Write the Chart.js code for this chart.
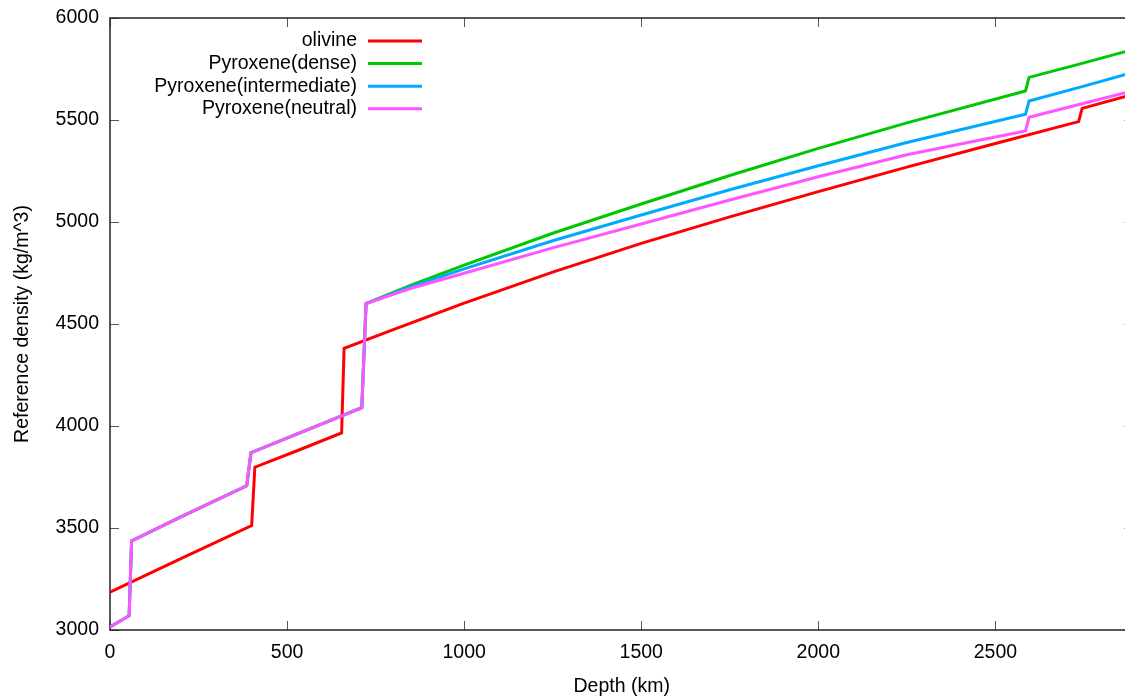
<!DOCTYPE html>
<html>
<head>
<meta charset="utf-8">
<script src="https://cdn.jsdelivr.net/npm/chart.js@4/dist/chart.umd.min.js"></script>
<style>
  html, body { margin: 0; padding: 0; background: #fff; overflow: hidden; }
  #wrap { width: 1125px; height: 698px; overflow: hidden; }
  canvas { display: block; }
</style>
</head>
<body>
<div id="wrap"><canvas id="densityChart" width="1135" height="698"></canvas></div>
<script>
/* ---------- data (depth in km, density in kg/m^3) ---------- */
const olivineDepth   = [0, 200, 400, 409, 530, 654, 661, 800, 1000, 1250, 1500, 1750, 2000, 2250, 2500, 2735, 2745, 2890];
const olivineDensity = [3186, 3350, 3512, 3798, 3880, 3966, 4381, 4472, 4602, 4754, 4895, 5025, 5149, 5269, 5385, 5492, 5557, 5626];

const pyroxeneDepth    = [0, 54, 61, 200, 386, 398, 550, 711, 723, 850, 1000, 1250, 1500, 1750, 2000, 2250, 2585, 2595, 2750, 2890];
const denseDensity     = [3015, 3070, 3437, 3555, 3707, 3869, 3976, 4090, 4600, 4691, 4789, 4945, 5088, 5228, 5361, 5486, 5642, 5709, 5780, 5846];
const intermDensity    = [3015, 3070, 3437, 3555, 3707, 3869, 3976, 4090, 4600, 4683, 4770, 4908, 5034, 5158, 5276, 5390, 5528, 5593, 5666, 5734];
const neutralDensity   = [3015, 3070, 3437, 3555, 3707, 3869, 3976, 4090, 4600, 4675, 4749, 4873, 4990, 5108, 5222, 5330, 5446, 5513, 5582, 5644];

const seriesLabels = ['olivine', 'Pyroxene(dense)', 'Pyroxene(intermediate)', 'Pyroxene(neutral)'];
const seriesColors = ['#ff0000', '#00c800', '#00aaff', '#ff55ff'];

const xTickValues = [0, 500, 1000, 1500, 2000, 2500];
const yTickValues = [3000, 3500, 4000, 4500, 5000, 5500, 6000];

const FONT = "'Liberation Sans', Arial, Helvetica, sans-serif";
const FONT_SIZE = 19.5;

function toPoints(xs, ys) {
  return xs.map((d, i) => ({ x: d, y: ys[i] }));
}

/* ---------- gnuplot style frame with inward ticks ---------- */
const framePlugin = {
  id: 'frame',
  beforeDatasetsDraw(chart) {
    const { ctx, chartArea: a, scales: { x, y } } = chart;
    ctx.save();
    ctx.strokeStyle = '#555';
    ctx.lineWidth = 1;
    ctx.beginPath();
    x.ticks.forEach(t => {
      const px = Math.round(x.getPixelForValue(t.value)) + 0.5;
      ctx.moveTo(px, a.bottom); ctx.lineTo(px, a.bottom - 9);
      ctx.moveTo(px, a.top); ctx.lineTo(px, a.top + 9);
    });
    y.ticks.forEach(t => {
      const py = Math.round(y.getPixelForValue(t.value)) + 0.5;
      ctx.moveTo(a.left, py); ctx.lineTo(a.left + 9, py);
      ctx.moveTo(a.right, py); ctx.lineTo(a.right - 9, py);
    });
    ctx.stroke();
    ctx.strokeStyle = '#222';
    ctx.lineWidth = 1.5;
    ctx.strokeRect(a.left, a.top, a.right - a.left, a.bottom - a.top);
    ctx.restore();
  }
};

/* ---------- legend: text right aligned, line sample on the right ---------- */
const keyPlugin = {
  id: 'key',
  afterDatasetsDraw(chart) {
    const { ctx } = chart;
    ctx.save();
    ctx.font = FONT_SIZE + 'px ' + FONT;
    ctx.textAlign = 'right';
    ctx.textBaseline = 'middle';
    seriesLabels.forEach((label, i) => {
      const yy = 41 + i * 22.6;
      ctx.fillStyle = '#000';
      ctx.fillText(label, 357, yy);
      ctx.strokeStyle = seriesColors[i];
      ctx.lineWidth = 3;
      ctx.beginPath();
      ctx.moveTo(368, yy);
      ctx.lineTo(422, yy);
      ctx.stroke();
    });
    ctx.restore();
  }
};

const seriesData = [
  toPoints(olivineDepth, olivineDensity),
  toPoints(pyroxeneDepth, denseDensity),
  toPoints(pyroxeneDepth, intermDensity),
  toPoints(pyroxeneDepth, neutralDensity)
];

const ctx = document.getElementById('densityChart').getContext('2d');
const densityChart = new Chart(ctx, {
  type: 'line',
  data: {
    datasets: seriesLabels.map((label, i) => ({
      label: label,
      data: seriesData[i],
      borderColor: seriesColors[i],
      backgroundColor: seriesColors[i],
      borderWidth: 3,
      pointRadius: 0,
      tension: 0,
      fill: false,
      order: 4 - i
    }))
  },
  options: {
    responsive: false,
    animation: false,
    layout: { padding: { top: 18, right: 1.5, left: 0, bottom: 0 } },
    plugins: {
      legend: { display: false },
      tooltip: { enabled: false }
    },
    scales: {
      x: {
        type: 'linear',
        min: 0,
        max: 2890,
        grid: { display: false, drawTicks: false },
        border: { display: false },
        afterBuildTicks: axis => { axis.ticks = xTickValues.map(v => ({ value: v })); },
        afterFit: axis => { axis.height = 68; axis.paddingLeft = 0; axis.paddingRight = 0; },
        ticks: {
          color: '#000',
          padding: 11,
          maxRotation: 0,
          callback: v => String(v),
          font: { family: FONT, size: FONT_SIZE }
        },
        title: {
          display: true,
          text: 'Depth (km)',
          color: '#000',
          padding: { top: 0, bottom: 0 },
          font: { family: FONT, size: FONT_SIZE }
        }
      },
      y: {
        type: 'linear',
        min: 3000,
        max: 6000,
        grid: { display: false, drawTicks: false },
        border: { display: false },
        afterBuildTicks: axis => { axis.ticks = yTickValues.map(v => ({ value: v })); },
        afterFit: axis => { axis.width = 110; axis.paddingTop = 0; axis.paddingBottom = 0; },
        ticks: {
          color: '#000',
          padding: 11,
          callback: v => String(v),
          font: { family: FONT, size: FONT_SIZE }
        },
        title: {
          display: true,
          text: 'Reference density (kg/m^3)',
          color: '#000',
          padding: { top: 11, bottom: 0 },
          font: { family: FONT, size: FONT_SIZE }
        }
      }
    }
  },
  plugins: [framePlugin, keyPlugin]
});
</script>
</body>
</html>
